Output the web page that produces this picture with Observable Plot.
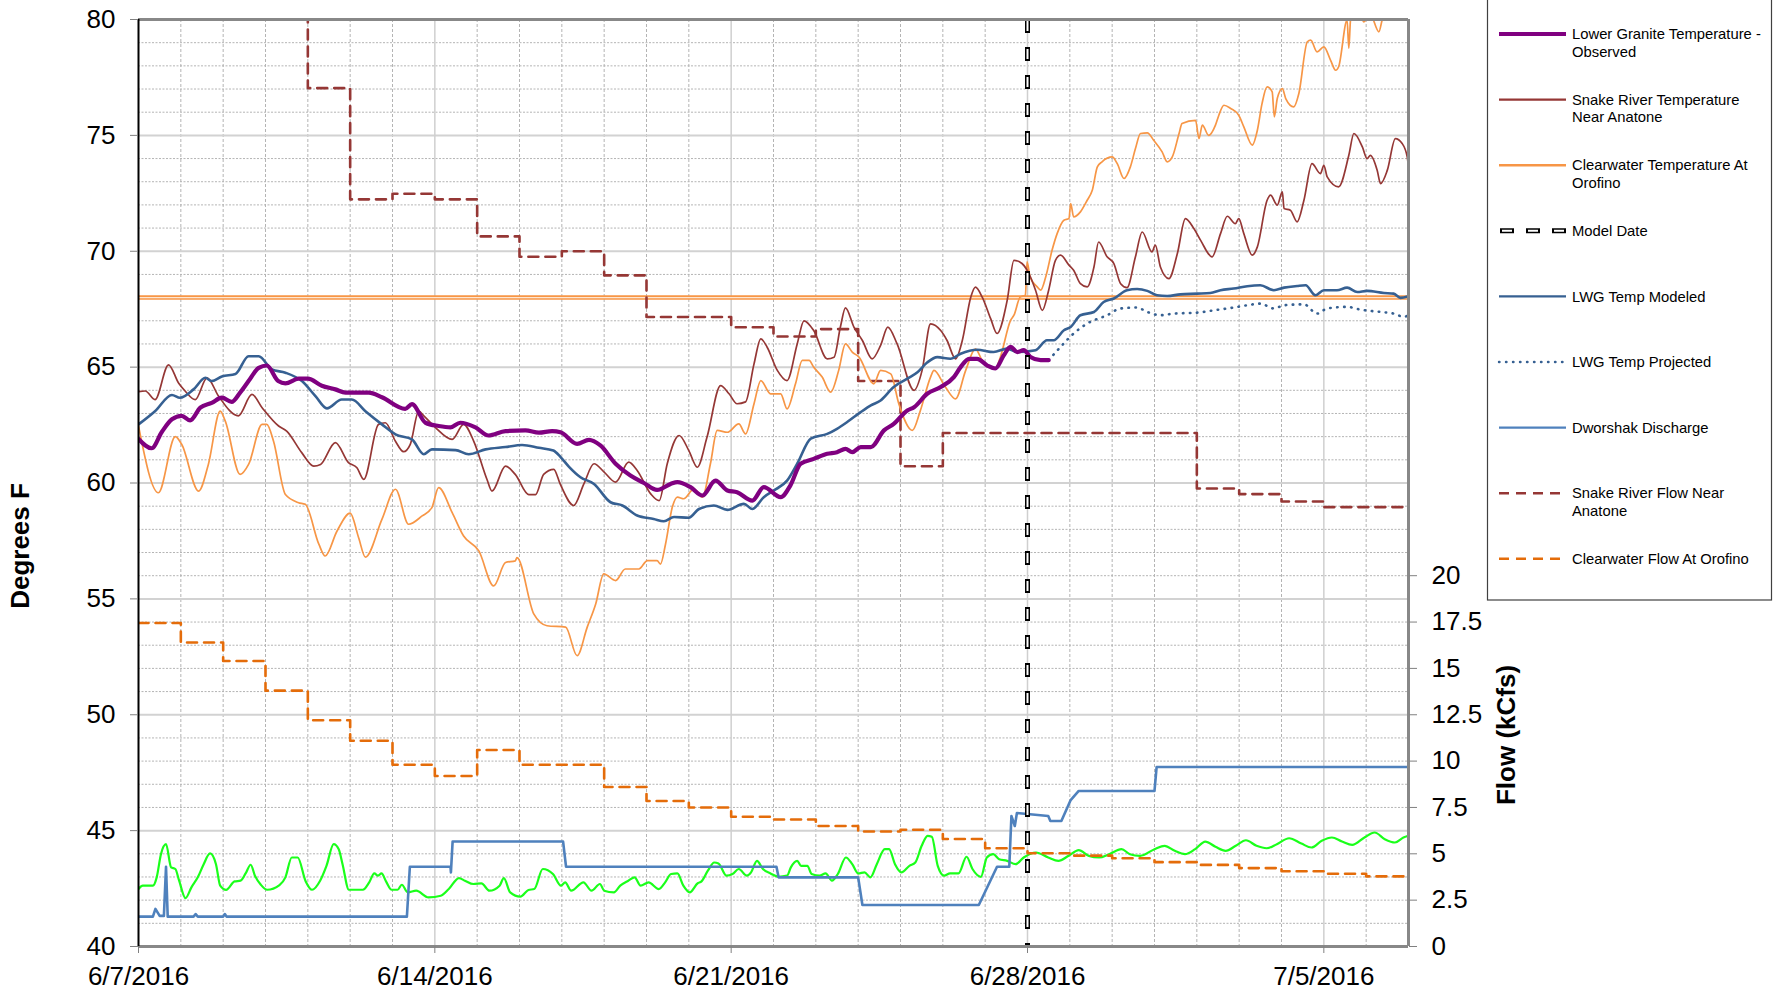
<!DOCTYPE html>
<html>
<head>
<meta charset="utf-8">
<script src="https://cdn.jsdelivr.net/npm/d3@7"></script>
<script src="https://cdn.jsdelivr.net/npm/@observablehq/plot@0.6"></script>
<style>
  html, body { margin: 0; padding: 0; background: #fff; }
  svg { display: block; }
</style>
</head>
<body>
<script>
// ---------- DATA (day offset from 6/7/2016, value) ----------
// Temperatures in °F
const lgrObserved = [[0,61.9],[0.31,61.5],[0.55,62.2],[0.79,62.75],[1.02,62.9],[1.22,62.7],[1.46,63.25],[1.73,63.46],[1.97,63.68],[2.2,63.5],[2.4,63.9],[2.6,64.4],[2.84,64.97],[3.03,65.07],[3.3,64.4],[3.47,64.3],[3.78,64.5],[4.0,64.5],[4.33,64.2],[4.65,64.04],[4.89,63.9],[5.44,63.9],[5.75,63.7],[6.3,63.2],[6.46,63.4],[6.78,62.6],[7.09,62.46],[7.37,62.4],[7.6,62.6],[7.96,62.4],[8.27,62.05],[8.67,62.24],[9.14,62.27],[9.46,62.17],[9.77,62.24],[9.97,62.19],[10.36,61.69],[10.64,61.86],[10.91,61.62],[11.27,60.83],[11.62,60.32],[11.94,60.0],[12.25,59.7],[12.57,59.96],[12.73,60.04],[13.04,59.82],[13.32,59.46],[13.63,60.1],[13.91,59.68],[14.14,59.6],[14.5,59.24],[14.77,59.82],[15.17,59.39],[15.4,59.9],[15.64,60.83],[15.95,61.04],[16.27,61.26],[16.5,61.33],[16.7,61.47],[16.86,61.33],[17.06,61.55],[17.3,61.55],[17.61,62.27],[17.84,62.55],[18.16,63.13],[18.32,63.27],[18.63,63.85],[18.95,64.14],[19.26,64.57],[19.42,65.0],[19.62,65.36],[19.81,65.36],[20.05,65.07],[20.24,64.94],[20.44,65.51],[20.6,65.87],[20.76,65.65],[20.91,65.73],[21.07,65.44],[21.31,65.3],[21.5,65.3]];

const snakeTemp = [[0,63.94],[0.16,63.97],[0.39,63.6],[0.71,65.1],[0.95,64.3],[1.1,63.97],[1.34,63.6],[1.62,64.54],[1.89,63.75],[2.36,62.9],[2.68,63.82],[2.92,63.25],[3.31,62.46],[3.5,62.24],[3.86,61.3],[4.14,60.73],[4.3,60.8],[4.65,61.74],[4.96,60.88],[5.16,60.66],[5.32,60.16],[5.67,62.53],[5.83,62.6],[6.07,61.8],[6.26,61.35],[6.42,61.67],[6.62,63.1],[6.74,62.9],[7.01,62.4],[7.41,61.88],[7.68,62.53],[7.92,61.8],[8.23,60.16],[8.35,59.65],[8.67,60.73],[8.9,60.37],[9.22,59.5],[9.38,59.5],[9.57,60.37],[9.81,60.59],[9.96,59.96],[10.28,59.03],[10.52,59.96],[10.76,60.83],[11.0,60.47],[11.27,60.04],[11.58,60.9],[11.78,60.54],[12.1,59.53],[12.3,59.24],[12.49,60.83],[12.77,62.05],[13.0,61.4],[13.2,60.68],[13.43,61.98],[13.75,64.2],[13.95,63.85],[14.14,63.42],[14.34,63.5],[14.54,65.14],[14.7,66.22],[14.85,65.86],[15.09,64.86],[15.32,64.42],[15.56,66.0],[15.72,67.0],[15.95,66.58],[16.27,65.36],[16.43,65.43],[16.58,66.73],[16.7,67.56],[16.9,66.73],[17.1,66.15],[17.33,65.36],[17.53,65.94],[17.7,66.73],[17.92,66.0],[18.32,64.0],[18.51,64.86],[18.71,66.87],[18.95,66.58],[19.1,66.15],[19.3,65.36],[19.46,66.15],[19.66,68.02],[19.77,68.45],[19.93,68.02],[20.13,67.09],[20.28,66.45],[20.52,67.88],[20.68,69.61],[20.87,69.47],[21.07,68.89],[21.19,68.32],[21.35,67.45],[21.5,68.32],[21.66,69.61],[21.78,69.83],[21.98,69.4],[22.09,69.18],[22.25,68.6],[22.41,68.46],[22.57,69.32],[22.68,70.4],[22.88,69.76],[23.04,69.47],[23.2,68.6],[23.35,68.43],[23.55,69.76],[23.71,70.83],[23.94,69.97],[24.02,70.26],[24.14,69.32],[24.34,68.82],[24.54,69.9],[24.73,71.41],[24.93,70.98],[25.09,70.47],[25.36,69.76],[25.56,70.76],[25.72,71.51],[25.91,71.19],[25.99,71.41],[26.11,70.76],[26.31,69.83],[26.43,70.19],[26.66,72.2],[26.74,72.42],[26.9,71.99],[27.02,72.56],[27.06,71.84],[27.21,71.77],[27.37,71.27],[27.53,72.2],[27.72,73.78],[27.92,73.35],[28.0,73.71],[28.08,73.21],[28.35,72.78],[28.59,74.14],[28.71,75.08],[28.91,74.5],[29.02,74.0],[29.1,74.14],[29.26,73.5],[29.34,72.92],[29.5,73.5],[29.69,74.86],[29.85,74.65],[29.97,74.07],[30.0,73.6]];

const clearwaterTemp = [[0,62.46],[0.47,59.58],[0.87,62.0],[1.02,61.67],[1.42,59.65],[1.65,60.8],[1.93,63.1],[2.05,62.67],[2.4,60.37],[2.6,60.8],[2.92,62.53],[3.03,62.53],[3.19,61.8],[3.47,59.5],[3.78,59.15],[3.94,59.08],[4.26,57.36],[4.41,56.85],[4.69,57.93],[5.0,58.7],[5.2,57.64],[5.36,56.8],[5.75,58.43],[6.07,59.73],[6.38,58.22],[6.7,58.58],[6.93,58.94],[7.09,59.8],[7.41,58.72],[7.68,57.71],[8.04,57.07],[8.39,55.56],[8.67,56.57],[8.9,56.64],[8.94,56.78],[9.34,54.34],[9.65,53.84],[10.09,53.78],[10.36,52.55],[10.6,53.78],[10.8,54.78],[10.99,56.08],[11.27,55.79],[11.5,56.29],[11.82,56.29],[12.02,56.65],[12.25,56.65],[12.33,56.5],[12.45,57.37],[12.61,58.96],[12.73,59.39],[12.88,59.32],[13.12,59.75],[13.32,59.39],[13.51,60.83],[13.67,62.27],[13.91,62.19],[14.18,62.55],[14.34,62.12],[14.54,63.42],[14.7,64.42],[14.93,63.85],[15.17,63.85],[15.32,63.2],[15.52,64.28],[15.68,65.29],[15.84,65.29],[15.95,65.0],[16.15,64.57],[16.35,63.92],[16.54,64.86],[16.7,66.0],[16.86,65.65],[17.02,65.43],[17.37,64.28],[17.53,64.86],[17.77,64.71],[17.96,63.42],[18.28,62.27],[18.47,63.13],[18.71,64.57],[18.79,64.86],[19.06,64.14],[19.3,63.63],[19.54,64.86],[19.77,65.79],[19.93,65.29],[20.24,64.94],[20.36,65.44],[20.6,67.02],[20.68,67.24],[20.83,68.03],[20.95,68.1],[20.99,69.54],[21.06,68.89],[21.23,68.46],[21.31,68.32],[21.43,68.89],[21.58,70.04],[21.7,70.76],[21.86,71.34],[21.98,71.41],[22.02,72.06],[22.09,71.48],[22.25,71.7],[22.41,72.2],[22.53,72.63],[22.65,73.64],[22.76,73.86],[23.0,74.07],[23.12,73.78],[23.28,73.14],[23.43,73.64],[23.55,74.43],[23.67,75.08],[23.83,75.11],[23.98,74.79],[24.18,74.29],[24.3,73.86],[24.42,74.07],[24.58,75.08],[24.65,75.51],[24.97,75.65],[25.05,74.86],[25.13,75.44],[25.28,75.0],[25.44,75.44],[25.52,75.87],[25.64,76.3],[25.8,76.16],[25.99,75.87],[26.11,75.37],[26.31,74.58],[26.43,75.22],[26.54,76.37],[26.66,77.09],[26.78,76.88],[26.83,75.8],[26.9,76.59],[27.02,77.02],[27.1,76.59],[27.29,76.23],[27.41,76.81],[27.61,79.04],[27.69,79.11],[27.84,78.6],[28.0,78.82],[28.16,78.24],[28.28,77.81],[28.35,77.96],[28.55,79.97],[28.59,78.75],[28.63,79.97],[28.75,80.8],[28.87,80.3],[28.94,79.9],[29.1,80.2],[29.3,79.47],[29.38,80.0],[29.6,80.8],[30.0,81.0]];

const lwgModeled = [[0,62.53],[0.39,63.1],[0.79,63.8],[0.98,63.68],[1.3,64.04],[1.58,64.54],[1.73,64.4],[1.97,64.6],[2.29,64.7],[2.6,65.47],[2.84,65.47],[3.15,64.9],[3.47,64.76],[3.86,64.4],[4.18,63.75],[4.45,63.22],[4.8,63.6],[5.04,63.6],[5.36,63.1],[5.75,62.53],[6.07,62.1],[6.46,61.88],[6.74,61.24],[6.93,61.45],[7.49,61.42],[7.8,61.24],[8.2,61.45],[8.67,61.55],[9.06,61.64],[9.46,61.52],[9.8,61.4],[9.97,61.12],[10.17,60.7],[10.44,60.25],[10.76,59.96],[11.15,59.17],[11.43,59.03],[11.78,58.6],[12.17,58.45],[12.41,58.35],[12.65,58.53],[13.0,58.5],[13.24,58.88],[13.59,59.03],[13.91,58.84],[14.3,59.1],[14.5,58.88],[14.77,59.39],[15.01,59.68],[15.32,60.1],[15.56,60.83],[15.88,61.91],[16.27,62.12],[16.5,62.34],[16.74,62.63],[17.06,63.06],[17.3,63.35],[17.53,63.56],[17.84,64.14],[18.16,64.5],[18.4,64.78],[18.63,65.2],[18.87,65.43],[19.18,65.36],[19.42,65.58],[19.81,65.75],[20.2,65.65],[20.52,65.8],[20.76,65.65],[21.19,65.73],[21.46,66.16],[21.62,66.16],[21.86,66.59],[22.02,66.73],[22.25,67.24],[22.57,67.38],[22.8,67.81],[23.04,67.96],[23.35,68.32],[23.59,68.37],[23.83,68.29],[24.06,68.1],[24.3,68.07],[24.61,68.14],[25.01,68.17],[25.32,68.2],[25.56,68.32],[25.87,68.39],[26.19,68.49],[26.5,68.53],[26.82,68.32],[27.06,68.43],[27.37,68.5],[27.57,68.53],[27.8,68.1],[28.0,68.32],[28.31,68.32],[28.55,68.43],[28.79,68.24],[29.02,68.29],[29.42,68.2],[29.65,68.17],[29.81,67.99],[30.0,68.06]];

const lwgProjected = [[21.5,65.3],[21.78,65.87],[22.09,66.45],[22.41,66.88],[22.88,67.24],[23.2,67.53],[23.59,67.57],[23.83,67.38],[24.14,67.24],[24.46,67.31],[25.01,67.35],[25.4,67.45],[25.87,67.57],[26.19,67.67],[26.5,67.74],[26.82,67.53],[27.06,67.67],[27.53,67.71],[27.84,67.31],[28.08,67.53],[28.55,67.6],[28.87,67.48],[29.34,67.38],[29.65,67.31],[29.89,67.17],[30.0,67.24]];

const thresholdTemp = 68;
const modelDateDay = 21;

// Flows in kcfs (right axis)
const dworshakDischarge = [[0,1.61],[0.34,1.61],[0.4,2.03],[0.5,1.65],[0.6,1.65],[0.65,4.3],[0.69,1.61],[1.3,1.61],[1.35,1.75],[1.4,1.61],[2.0,1.61],[2.04,1.75],[2.08,1.61],[6.34,1.61],[6.41,4.3],[7.37,4.3],[7.38,4.0],[7.42,5.66],[10.03,5.66],[10.1,4.3],[15.07,4.3],[15.12,3.73],[17.0,3.73],[17.1,2.24],[19.85,2.24],[20.28,4.3],[20.57,4.3],[20.62,7.04],[20.7,6.5],[20.75,7.2],[21.49,7.04],[21.54,6.77],[21.8,6.77],[22.02,7.9],[22.21,8.39],[24.0,8.39],[24.05,9.68],[30.0,9.68]];

const snakeFlow = [[0,55],[4,46.3],[5,40.3],[6,40.6],[7,40.3],[8,38.3],[9,37.2],[10,37.5],[11,36.2],[12,33.95],[14,33.4],[15,32.9],[16,33.3],[17,30.5],[18,25.9],[19,27.7],[25,24.7],[26,24.4],[27,24.0],[28,23.7],[30,23.7]];

const clearwaterFlow = [[0,17.45],[1,16.4],[2,15.4],[3,13.8],[4,12.2],[5,11.1],[6,9.8],[7,9.2],[8,10.6],[9,9.8],[11,8.6],[12,7.85],[13,7.5],[14,7.0],[15,6.85],[16,6.5],[17,6.2],[18,6.3],[19,5.8],[20,5.3],[21,5.03],[22,4.9],[23,4.76],[24,4.55],[25,4.4],[26,4.23],[27,4.06],[28,3.92],[29,3.78],[30,3.78]];

const greenFlow = [[0,3.1],[0.1,3.28],[0.34,3.28],[0.43,3.73],[0.53,4.98],[0.65,5.52],[0.77,4.27],[0.87,4.18],[0.96,3.55],[1.11,2.61],[1.25,3.19],[1.4,3.73],[1.54,4.44],[1.69,5.02],[1.83,4.44],[1.93,3.28],[2.07,3.05],[2.27,3.51],[2.41,3.55],[2.53,3.94],[2.65,4.41],[2.75,3.82],[2.89,3.33],[3.04,3.06],[3.33,3.31],[3.47,3.73],[3.62,4.8],[3.76,4.8],[3.95,3.51],[4.1,3.06],[4.29,3.55],[4.44,4.35],[4.61,5.52],[4.73,5.25],[4.82,4.44],[4.97,3.06],[5.3,3.06],[5.45,3.46],[5.57,3.94],[5.66,3.82],[5.74,3.94],[5.85,3.5],[5.98,3.06],[6.12,3.06],[6.22,3.33],[6.36,2.92],[6.56,3.01],[6.85,2.65],[7.14,2.74],[7.33,3.1],[7.57,3.69],[7.71,3.55],[7.91,3.37],[8.1,3.41],[8.29,3.01],[8.53,3.28],[8.63,3.69],[8.78,2.92],[9.02,2.69],[9.21,3.05],[9.35,3.1],[9.55,4.18],[9.79,3.91],[9.98,3.28],[10.08,3.46],[10.22,3.01],[10.51,3.46],[10.7,3.01],[10.9,3.37],[11.0,3.01],[11.23,2.92],[11.38,3.28],[11.57,3.55],[11.72,3.73],[11.86,3.28],[12.05,3.46],[12.29,3.1],[12.44,3.46],[12.58,3.91],[12.73,3.94],[12.87,3.28],[13.02,2.92],[13.21,3.41],[13.3,3.51],[13.45,4.09],[13.6,4.53],[13.7,4.48],[13.89,3.82],[14.03,3.91],[14.18,4.18],[14.37,3.82],[14.47,4.0],[14.61,4.62],[14.75,4.18],[14.93,3.94],[15.12,3.76],[15.32,3.82],[15.41,4.27],[15.56,4.62],[15.65,4.35],[15.8,4.35],[15.9,3.91],[16.09,3.82],[16.23,3.94],[16.38,3.55],[16.52,3.91],[16.71,4.8],[16.86,4.44],[17.0,3.94],[17.15,4.0],[17.29,3.73],[17.44,4.44],[17.63,5.25],[17.73,5.25],[17.87,4.44],[18.02,4.0],[18.21,4.35],[18.35,4.53],[18.5,5.43],[18.64,5.97],[18.74,5.92],[18.88,4.35],[19.03,3.82],[19.17,3.94],[19.37,3.94],[19.56,4.84],[19.7,4.18],[19.9,3.76],[20.04,4.8],[20.19,4.98],[20.33,4.71],[20.52,4.62],[20.72,4.44],[20.91,4.8],[21.2,5.07],[21.49,4.8],[21.73,4.62],[21.97,4.89],[22.21,5.2],[22.45,4.89],[22.69,4.8],[22.93,4.98],[23.22,5.25],[23.42,4.98],[23.66,4.89],[24.0,5.25],[24.24,5.43],[24.48,5.16],[24.72,4.98],[24.96,5.25],[25.2,5.66],[25.44,5.38],[25.68,5.16],[25.92,5.43],[26.16,5.73],[26.41,5.43],[26.65,5.3],[26.89,5.52],[27.18,5.84],[27.47,5.55],[27.71,5.34],[27.95,5.7],[28.19,5.88],[28.43,5.66],[28.67,5.48],[28.96,5.88],[29.2,6.15],[29.44,5.79],[29.68,5.61],[29.88,5.88],[30.0,5.97]];

// Axis ticks
const tempTicks = [40, 45, 50, 55, 60, 65, 70, 75, 80];
const flowTicks = [0, 2.5, 5, 7.5, 10, 12.5, 15, 17.5, 20];
const weekTickDays = [0, 7, 14, 21, 28];
const legendLabels = [
  ["Lower Granite Temperature -", "Observed"],
  ["Snake River Temperature", "Near Anatone"],
  ["Clearwater Temperature At", "Orofino"],
  ["Model Date"],
  ["LWG Temp Modeled"],
  ["LWG Temp Projected"],
  ["Dworshak Discharge"],
  ["Snake River Flow Near", "Anatone"],
  ["Clearwater Flow At Orofino"]
];

// ---------- helpers ----------
const DAY = 86400000;
const T0 = Date.UTC(2016, 5, 7);
const toDate = d => new Date(T0 + d * DAY);
// the flow axis shares the frame: 0–50 kcfs spans the same height as 40–80 °F
const flowToY = f => 40 + f * 0.8;
const FONT = "'Liberation Sans', Arial, Helvetica, sans-serif";

const styles = {
  obs:   {stroke: "#800080", strokeWidth: 4.2},
  snakeT:{stroke: "#953735", strokeWidth: 1.7},
  clearT:{stroke: "#f79646", strokeWidth: 1.7},
  mod:   {stroke: "#366092", strokeWidth: 2.6},
  proj:  {stroke: "#366092", strokeWidth: 2.6, strokeDasharray: "0.5,6.5", strokeLinecap: "round"},
  dwor:  {stroke: "#4f81bd", strokeWidth: 2.6},
  snakeF:{stroke: "#953735", strokeWidth: 2.6, strokeDasharray: "10,7"},
  clearF:{stroke: "#e46c0a", strokeWidth: 2.6, strokeDasharray: "10,7"},
  green: {stroke: "#1aff1a", strokeWidth: 2.2}
};

const tempLine = (data, st, extra = {}) => Plot.line(data, {x: d => toDate(d[0]), y: d => d[1], clip: true, curve: "monotone-x", ...st, ...extra});
const flowLine = (data, st, extra = {}) => Plot.line(data, {x: d => toDate(d[0]), y: d => flowToY(d[1]), clip: true, ...st, ...extra});

const minorDays = d3.range(1, 30).filter(d => !weekTickDays.includes(d)).map(toDate);
const majorDays = weekTickDays.slice(1).map(toDate);
const minorTemps = d3.range(41, 80).filter(t => t % 5 !== 0);
const majorTemps = tempTicks.filter(t => t > 40 && t < 80);
const fmtDate = d => `${d.getUTCMonth() + 1}/${d.getUTCDate()}/${d.getUTCFullYear()}`;

const chart = Plot.plot({
  width: 1773,
  height: 995,
  marginLeft: 138,
  marginRight: 365,
  marginTop: 19,
  marginBottom: 49,
  style: {fontFamily: FONT, fontSize: "26px", color: "black", background: "white", overflow: "visible"},
  x: {type: "utc", domain: [toDate(0), toDate(30)]},
  y: {domain: [40, 80]},
  marks: [
    Plot.gridY(minorTemps, {stroke: "#b4b4b4", strokeOpacity: 1, strokeWidth: 1, strokeDasharray: "2,1.5"}),
    Plot.gridX(minorDays, {stroke: "#b4b4b4", strokeOpacity: 1, strokeWidth: 1, strokeDasharray: "3,2"}),
    Plot.gridY(majorTemps, {stroke: "#d2d2d2", strokeOpacity: 1, strokeWidth: 2}),
    Plot.gridX(majorDays, {stroke: "#cfcfcf", strokeOpacity: 1, strokeWidth: 1.5}),
    Plot.ruleY([thresholdTemp], {stroke: "#f79646", strokeWidth: 4.5}),
    Plot.ruleY([thresholdTemp], {stroke: "#fde6d2", strokeWidth: 1.2}),
    flowLine(greenFlow, styles.green, {curve: "monotone-x"}),
    flowLine(clearwaterFlow, styles.clearF, {curve: "step-after"}),
    flowLine(snakeFlow, styles.snakeF, {curve: "step-after"}),
    flowLine(dworshakDischarge, styles.dwor),
    tempLine(clearwaterTemp, styles.clearT),
    tempLine(snakeTemp, styles.snakeT),
    tempLine(lwgModeled, styles.mod),
    tempLine(lwgProjected, styles.proj),
    tempLine(lgrObserved, styles.obs),
    Plot.ruleX([toDate(modelDateDay)], {stroke: "black", strokeWidth: 5, strokeDasharray: "14,14"}),
    Plot.ruleX([toDate(modelDateDay)], {stroke: "white", strokeWidth: 2, strokeDasharray: "10,18", strokeDashoffset: -2}),
    Plot.ruleY([80], {stroke: "#888888", strokeWidth: 3}),
    Plot.ruleY([40], {stroke: "#888888", strokeWidth: 3}),
    Plot.ruleX([toDate(30)], {stroke: "#888888", strokeWidth: 3}),
    Plot.ruleX([toDate(0)], {stroke: "black", strokeWidth: 2}),
    Plot.axisY(tempTicks, {anchor: "left", tickSize: 8, tickPadding: 15, stroke: "#808080", fill: "black", label: null, fontSize: 26}),
    Plot.axisY(flowTicks.map(flowToY), {anchor: "right", tickSize: 8, tickPadding: 15, stroke: "#808080", fill: "black", label: null, fontSize: 26,
      tickFormat: t => String(Math.round((t - 40) / 0.8 * 10) / 10)}),
    Plot.axisX(weekTickDays.map(toDate), {anchor: "bottom", tickSize: 7, tickPadding: 13, stroke: "#808080", fill: "black", label: null, fontSize: 26, tickFormat: fmtDate})
  ]
});

document.body.append(chart);

// ---------- axis titles & legend (SVG text) ----------
const svg = d3.select(chart);
svg.append("text")
  .attr("transform", "translate(29,546) rotate(-90)")
  .attr("text-anchor", "middle")
  .attr("font-family", FONT).attr("font-size", 26).attr("font-weight", "bold")
  .text("Degrees F");
svg.append("text")
  .attr("transform", "translate(1515,735) rotate(-90)")
  .attr("text-anchor", "middle")
  .attr("font-family", FONT).attr("font-size", 26).attr("font-weight", "bold")
  .text("Flow (kCfs)");

const lg = svg.append("g").attr("text-anchor", "start");
lg.append("rect").attr("x", 1487.5).attr("y", -2).attr("width", 284).attr("height", 602)
  .attr("fill", "white").attr("stroke", "#404040").attr("stroke-width", 1.2);
const legendKeys = ["obs", "snakeT", "clearT", "model", "mod", "proj", "dwor", "snakeF", "clearF"];
legendKeys.forEach((k, i) => {
  const y = 34 + i * 65.6;
  const g = lg.append("g");
  if (k === "model") {
    g.append("line").attr("x1", 1500).attr("x2", 1566).attr("y1", y).attr("y2", y)
      .attr("stroke", "black").attr("stroke-width", 5).attr("stroke-dasharray", "14,12");
    g.append("line").attr("x1", 1500).attr("x2", 1566).attr("y1", y).attr("y2", y)
      .attr("stroke", "white").attr("stroke-width", 2).attr("stroke-dasharray", "10,16").attr("stroke-dashoffset", -2);
  } else {
    const st = styles[k];
    g.append("line").attr("x1", 1499).attr("x2", 1566).attr("y1", y).attr("y2", y)
      .attr("stroke", st.stroke).attr("stroke-width", k === "obs" ? 4.2 : 2.4)
      .attr("stroke-dasharray", st.strokeDasharray || null)
      .attr("stroke-linecap", st.strokeLinecap || null);
  }
  const t = g.append("text").attr("x", 1572).attr("y", y).attr("text-anchor", "start")
    .attr("font-family", FONT).attr("font-size", 14.8).attr("fill", "black");
  legendLabels[i].forEach((line, j) => {
    t.append("tspan").attr("x", 1572).attr("dy", j === 0 ? "0.35em" : 17.5).text(line);
  });
});
</script>
</body>
</html>
